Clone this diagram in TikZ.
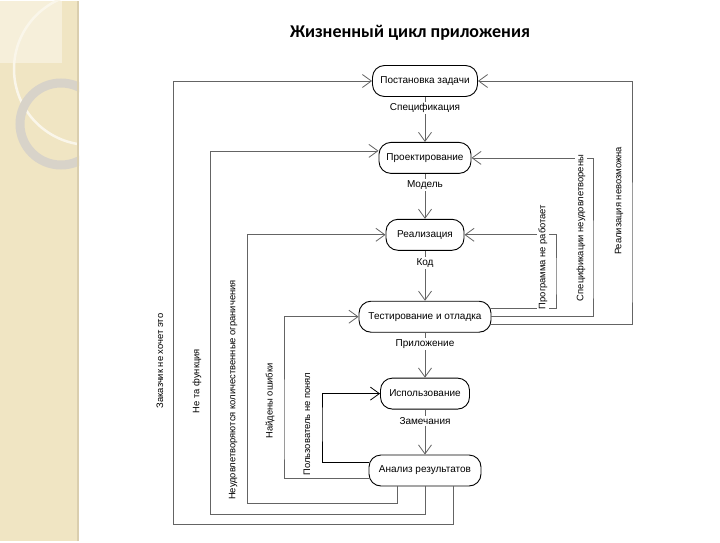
\documentclass[tikz,border=0pt]{standalone}
\usepackage{fontspec}
\setmainfont{Liberation Sans}
\newfontfamily\titlefont{Carlito}
\usepackage{tikz}
\usetikzlibrary{arrows.meta, positioning, calc}
\definecolor{stripBeige}{RGB}{240,229,195}
\definecolor{stripEdge}{RGB}{218,206,174}
\definecolor{stripLight}{RGB}{246,239,218}
\definecolor{ringGray}{RGB}{216,211,201}
\definecolor{lineGray}{RGB}{100,100,100}

\begin{document}
\begin{tikzpicture}[
    x=1pt, y=1pt,
    node distance=45pt,
    stage/.style={rectangle, rounded corners=12pt, minimum height=31pt, text centered, draw=black, line width=0.9pt, font=\fontsize{10}{12}\selectfont, inner xsep=6pt},
    arrow/.style={-{Straight Barb[length=9pt,width=13pt]}, draw=lineGray, line width=0.8pt},
    backarrow/.style={-{Straight Barb[length=9pt,width=13pt]}, draw=lineGray, line width=0.8pt},
    flowlabel/.style={fill=white, inner sep=1.5pt, font=\fontsize{10}{12}\selectfont},
    note/.style={rotate=90, fill=white, inner sep=1.5pt, font=\fontsize{9.4}{11}\selectfont}
]

% Background and side strip
\fill[white] (0,0) rectangle (720,540);
\begin{scope}
    \clip (0,0) rectangle (79,540);
    \fill[stripBeige] (0,0) rectangle (79,540);
    \fill[stripLight] (0,478) rectangle (62,540);
    \draw[white!65!stripBeige, line width=2.5pt] (90,472) circle[radius=76];
    \draw[ringGray, line width=9pt] (61,417) circle[radius=41];
\end{scope}
\draw[stripEdge, line width=2pt] (78,0) -- (78,540);

% Title
\node[font=\titlefont\bfseries\fontsize{18}{21}\selectfont] (title) at (410,508) {Жизненный цикл приложения};

% Stages
\node[stage, minimum width=105pt] (zadacha) at (425,460) {Постановка задачи};
\node[stage, minimum width=92pt, below=of zadacha] (proekt) {Проектирование};
\node[stage, minimum width=78pt, below=of proekt] (realiz) {Реализация};
\node[stage, minimum width=132pt, below=50pt of realiz] (test) {Тестирование и отладка};
\node[stage, minimum width=89pt, below=of test] (ispolz) {Использование};
\node[stage, minimum width=112pt, below=of ispolz] (analiz) {Анализ результатов};

% Main flow
\draw[arrow] (zadacha) -- node[flowlabel, pos=0.25] {Спецификация} (proekt);
\draw[arrow] (proekt) -- node[flowlabel, pos=0.25] {Модель} (realiz);
\draw[arrow] (realiz) -- node[flowlabel, pos=0.25] {Код} (test);
\draw[arrow] (test) -- node[flowlabel, pos=0.25] {Приложение} (ispolz);
\draw[arrow] (ispolz) -- node[flowlabel, pos=0.25] {Замечания} (analiz);

% Rails
\coordinate (railA) at (173,17);
\coordinate (railB) at (210,27);
\coordinate (railC) at (247,38);
\coordinate (railD) at (284,100);
\coordinate (railE) at (322,120);
\coordinate (railF) at (556,260);
\coordinate (railG) at (593,260);
\coordinate (railH) at (632,260);

% Returns on the left
\draw[backarrow] ([xshift=28pt]analiz.south) |- (railA) |- (zadacha.west);
\draw[backarrow] (analiz.south) |- (railB) |- ([yshift=7pt]proekt.west);
\draw[backarrow] ([xshift=-28pt]analiz.south) |- (railC) |- (realiz.west);
\draw[backarrow] ([yshift=-8pt]analiz.west) -| (railD) |- (test.west);
\draw[backarrow, draw=black] ([yshift=8pt]analiz.west) -| (railE) |- (ispolz.west);

% Returns on the right
\draw[backarrow] ([yshift=8pt]test.east) -| (railF) |- (realiz.east);
\draw[backarrow] (test.east) -| (railG) |- (proekt.east);
\draw[backarrow] ([yshift=-8pt]test.east) -| (railH) |- (zadacha.east);

% Labels
\node[note] (lblA) at (160,180) {Заказчик не хочет это};
\node[note] (lblB) at (197,160) {Не та функция};
\node[note] (lblC) at (233,151) {Неудовлетворяются количественные ограничения};
\node[note] (lblD) at (270,140) {Найдены ошибки};
\node[note] (lblE) at (307,117) {Пользователь не понял};
\node[note] (lblF) at (543,284) {Программа не работает};
\node[note] (lblG) at (581,313) {Спецификации неудовлетворены};
\node[note] (lblH) at (619,340) {Реализация невозможна};

\end{tikzpicture}
\end{document}
